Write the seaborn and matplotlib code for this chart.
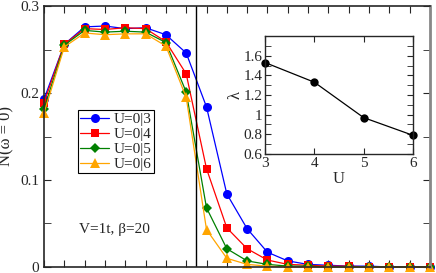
import numpy as np
import pandas as pd
import matplotlib
matplotlib.use("Agg")
import matplotlib.pyplot as plt
import seaborn as sns
from matplotlib.ticker import MultipleLocator

sns.set_style("ticks")
plt.rcParams['font.family'] = ['Liberation Serif', 'DejaVu Serif']

# main panel data: N(w=0) at 20 grid points
idx = np.arange(20)
n_u3 = [0.193, 0.256, 0.276, 0.277, 0.274, 0.275, 0.267, 0.246, 0.184, 0.084,
        0.044, 0.017, 0.007, 0.003, 0.002, 0.001, 0.001, 0.0, 0.0, 0.0]
n_u4 = [0.189, 0.256, 0.274, 0.273, 0.275, 0.274, 0.259, 0.222, 0.113, 0.045,
        0.021, 0.008, 0.003, 0.002, 0.001, 0.001, 0.0, 0.0, 0.0, 0.0]
n_u5 = [0.182, 0.255, 0.272, 0.270, 0.271, 0.270, 0.258, 0.201, 0.068, 0.021,
        0.007, 0.003, 0.001, 0.001, 0.0, 0.0, 0.0, 0.0, 0.0, 0.0]
n_u6 = [0.177, 0.253, 0.269, 0.267, 0.268, 0.268, 0.254, 0.195, 0.043, 0.010,
        0.003, 0.001, 0.0, 0.0, 0.0, 0.0, 0.0, 0.0, 0.0, 0.0]
labels = ["U=0|3", "U=0|4", "U=0|5", "U=0|6"]

# inset data
u_vals = [3, 4, 5, 6]
lam = [1.53, 1.33, 0.97, 0.79]

fig = plt.figure(figsize=(4.36, 2.73), dpi=100)
ax = fig.add_axes([0.101, 0.022, 0.885, 0.956])

styles = [("blue", "o", 6.5), ("red", "s", 6), ("green", "D", 5), ("orange", "^", 6.5)]
for ys, lab, (c, m, ms) in zip([n_u3, n_u4, n_u5, n_u6], labels, styles):
    df = pd.DataFrame({"x": idx, "y": ys})
    sns.lineplot(data=df, x="x", y="y", ax=ax, color=c, marker=m, markersize=ms,
                 markeredgewidth=0, linewidth=0.9, label=lab, clip_on=False)

ax.axvline(7.5, color="black", lw=1.0)
ax.set_xlim(0, 19)
ax.set_ylim(0, 0.3)
ax.set_xticks(idx)
ax.set_xticklabels([])
ax.set_yticks([0, 0.1, 0.2, 0.3])
ax.set_yticklabels(["0", "0.1", "0.2", "0.3"])
ax.yaxis.set_minor_locator(MultipleLocator(0.05))
ax.tick_params(direction="in", top=True, right=True, which="both", labelsize=11)
ax.tick_params(which="both", length=5)
ax.set_xlabel("")
ax.set_ylabel("N(ω = 0)", fontsize=12, labelpad=4)
for s in ax.spines.values():
    s.set_linewidth(1.2)
ax.spines["right"].set_color("#888888")
ax.spines["right"].set_linewidth(2)

leg = ax.legend(loc="upper left", bbox_to_anchor=(0.088, 0.6), fontsize=11,
                handlelength=1.9, handletextpad=0.3, labelspacing=0.08,
                borderpad=0.15, borderaxespad=0, fancybox=False, framealpha=1)
leg.get_frame().set_edgecolor("black")
leg.get_frame().set_linewidth(0.8)

ax.text(1.7, 0.043, "V=1t, β=20", fontsize=11, va="center")

# inset
ins = fig.add_axes([0.608, 0.436, 0.339, 0.432])
sns.lineplot(x=u_vals, y=lam, ax=ins, color="black", marker="o", markersize=6,
             markeredgewidth=0, linewidth=0.9, clip_on=False)
ins.set_xlim(3, 6)
ins.set_ylim(0.6, 1.8)
ins.set_xticks([3, 4, 5, 6])
ins.set_yticks([0.6, 0.8, 1.0, 1.2, 1.4, 1.6])
ins.set_yticklabels(["0.6", "0.8", "1", "1.2", "1.4", "1.6"])
ins.yaxis.set_minor_locator(MultipleLocator(0.1))
ins.tick_params(direction="in", top=True, right=True, which="both", labelsize=11, pad=2)
ins.tick_params(which="both", length=4)
ins.set_xlabel("U", fontsize=12, labelpad=1)
ins.set_ylabel("λ", fontsize=12, labelpad=0)
for s in ins.spines.values():
    s.set_linewidth(1.0)

fig.savefig("out.png", dpi=100)
